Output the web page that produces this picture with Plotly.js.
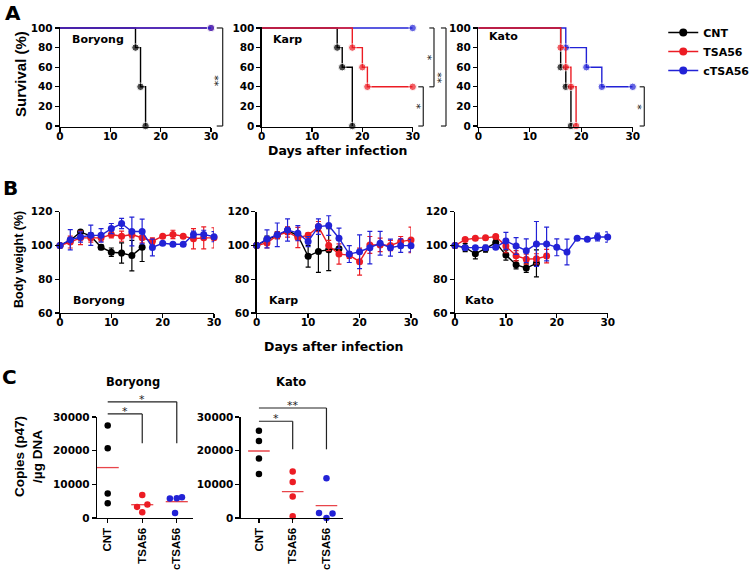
<!DOCTYPE html>
<html><head><meta charset="utf-8">
<script src="https://cdn.plot.ly/plotly-3.0.1.min.js"></script>
<style>html,body{margin:0;padding:0;background:#fff}#chart{width:750px;height:572px}</style>
</head><body><div id="chart"></div>
<script>
// ---------- Panel A : survival (%) ----------
const aBoryongCNTDay=[0,15,16,17],      aBoryongCNT=[100,80,40,0];
const aBoryongTSA56Day=[0,30],          aBoryongTSA56=[100,100];
const aBoryongcTSA56Day=[0,30],         aBoryongcTSA56=[100,100];
const aKarpCNTDay=[0,15,16,18],         aKarpCNT=[100,80,60,0];
const aKarpTSA56Day=[0,18,20,21,30],    aKarpTSA56=[100,80,60,40,40];
const aKarpcTSA56Day=[0,30],            aKarpcTSA56=[100,100];
const aKatoCNTDay=[0,16,17,18],         aKatoCNT=[100,60,40,0];
const aKatoTSA56Day=[0,16,17,18,19],    aKatoTSA56=[100,80,60,40,0];
const aKatocTSA56Day=[0,17,21,24,30],   aKatocTSA56=[100,80,60,40,40];

// ---------- Panel B : body weight (%) ----------
const bDays=[0,2,4,6,8,10,12,14,16,18,20,22,24,26,28,30];
const bBoryongCNT=[100,103,108,105.5,99,96,95.5,94,99];
const bBoryongCNTsd=[0,1.5,1,2,1.5,2.5,6,9,8.5];
const bBoryongTSA56=[100,102,104.5,104.5,104.5,106.5,105.5,106.5,104.5,102.5,105.5,106.5,105.5,104,104.5,104.5];
const bBoryongTSA56sd=[0,3.5,4,2.5,2,2,3,2,3,2,1,2.5,1,6,6.5,6];
const bBoryongcTSA56=[100,103.4,105,106,106,110,113,108.3,108.3,98.8,101.3,100.7,100.7,106.5,106.5,105.2];
const bBoryongcTSA56sd=[0,6,3,6,4,3,3,8.5,7.3,5,1,1,1,2,2.5,3];
const bKarpCNT=[100,103.5,106,108.8,105.9,93.6,96.5,97.5,98];
const bKarpCNTsd=[0,2,2,2,2,6.4,12.4,12.4,1];
const bKarpTSA56=[100,101.5,106,108,104.7,106,111.2,100,94.9,94.3,90.4,100.3,100.3,100,102.3,103.3];
const bKarpTSA56sd=[0,3,2,3,6,1.5,3,3,6,2,8,5,4,3,3,7.6];
const bKarpcTSA56=[100,103.9,106.3,109.2,107.3,102.3,111.2,111.8,104.3,94.9,96.3,98.7,101.3,98.7,99.9,99.9];
const bKarpcTSA56sd=[0,5.3,7,6.6,4.5,3,4.6,5.8,6,5,10,9.6,7,5,4,3.7];
const bKatoCNT=[100,98.7,95.1,98.1,101.7,94.3,88.6,86.6,89.4];
const bKatoCNTsd=[0,2.4,3,2,2,3,2.5,2.5,8];
const bKatoTSA56=[100,103.5,104.3,104.5,105.3,99.7,93.9,91.9,92.1,93.7];
const bKatoTSA56sd=[0,1,1,1,1,4,3,3,3,4];
const bKatocTSA56=[100,98.7,98.7,98.7,98.9,102.7,99.7,96.9,100.9,100.9,98.9,96.1,104.3,103.7,105,105];
const bKatocTSA56sd=[0,1,1,1,1,5,5,7,13.3,10,5,7.6,0,0,2.3,3];

// ---------- Panel C : copies (p47) / ug DNA ----------
const cGroups=['CNT','TSA56','cTSA56'];
const cBoryongCNT=[27500,20700,7300,4400];
const cBoryongTSA56=[6800,4000,3300,1700];
const cBoryongcTSA56=[5800,5900,6200,1500];
const cKatoCNT=[25900,22900,17700,13100];
const cKatoTSA56=[13800,10700,6400,500];
const cKatocTSA56=[11800,1500,0,1300];
// horizontal scatter offsets of the dots inside each group
const cBoryongCNTJit=[0,0,0,0], cBoryongTSA56Jit=[0,0.15,-0.15,0], cBoryongcTSA56Jit=[-0.2,0,0.15,-0.05];
const cKatoCNTJit=[0,0,0,0], cKatoTSA56Jit=[0,0,0,0], cKatocTSA56Jit=[0,-0.22,0,0.18];

// ---------- styling ----------
const COL={CNT:'#000000',TSA56:'#ec1c24',cTSA56:'#2222d6'};
const FH='DejaVu Sans', FV='Liberation Sans';
const W=750,H=572;
const px=v=>v/W, py=v=>1-v/H;
const data=[];

function survTrace(x,y,g,xa,ya){
  return {type:'scatter',x,y,xaxis:xa,yaxis:ya,mode:'lines+markers',
    line:{shape:'hv',color:COL[g],width:1.4},
    marker:{color:COL[g],size:x.map((d,i)=>i===0?0:7.5)},
    cliponaxis:false,showlegend:false,hoverinfo:'skip'};
}
data.push(survTrace(aBoryongCNTDay,aBoryongCNT,'CNT','x','y'));
data.push(survTrace(aBoryongTSA56Day,aBoryongTSA56,'TSA56','x','y'));
data.push(survTrace(aBoryongcTSA56Day,aBoryongcTSA56,'cTSA56','x','y'));
data.push(survTrace(aKarpCNTDay,aKarpCNT,'CNT','x2','y2'));
data.push(survTrace(aKarpcTSA56Day,aKarpcTSA56,'cTSA56','x2','y2'));
data.push(survTrace(aKarpTSA56Day,aKarpTSA56,'TSA56','x2','y2'));
data.push(survTrace(aKatoCNTDay,aKatoCNT,'CNT','x3','y3'));
data.push(survTrace(aKatocTSA56Day,aKatocTSA56,'cTSA56','x3','y3'));
data.push(survTrace(aKatoTSA56Day,aKatoTSA56,'TSA56','x3','y3'));

function bwTrace(y,sd,g,xa,ya){
  return {type:'scatter',x:bDays.slice(0,y.length),y,xaxis:xa,yaxis:ya,mode:'lines+markers',
    line:{color:COL[g],width:1.4},marker:{color:COL[g],size:7},
    error_y:{type:'data',array:sd,visible:true,color:COL[g],thickness:1.2,width:2.5},
    cliponaxis:false,showlegend:false,hoverinfo:'skip'};
}
data.push(bwTrace(bBoryongCNT,bBoryongCNTsd,'CNT','x4','y4'));
data.push(bwTrace(bBoryongTSA56,bBoryongTSA56sd,'TSA56','x4','y4'));
data.push(bwTrace(bBoryongcTSA56,bBoryongcTSA56sd,'cTSA56','x4','y4'));
data.push(bwTrace(bKarpCNT,bKarpCNTsd,'CNT','x5','y5'));
data.push(bwTrace(bKarpTSA56,bKarpTSA56sd,'TSA56','x5','y5'));
data.push(bwTrace(bKarpcTSA56,bKarpcTSA56sd,'cTSA56','x5','y5'));
data.push(bwTrace(bKatoCNT,bKatoCNTsd,'CNT','x6','y6'));
data.push(bwTrace(bKatoTSA56,bKatoTSA56sd,'TSA56','x6','y6'));
data.push(bwTrace(bKatocTSA56,bKatocTSA56sd,'cTSA56','x6','y6'));

function dots(vals,jit,gi,xa,ya){
  const g=cGroups[gi];
  const mean=vals.reduce((a,b)=>a+b,0)/vals.length;
  data.push({type:'scatter',x:[gi-0.32,gi+0.32],y:[mean,mean],xaxis:xa,yaxis:ya,mode:'lines',
    line:{color:'#e8454a',width:1.3},showlegend:false,hoverinfo:'skip',cliponaxis:false});
  data.push({type:'scatter',x:vals.map((v,i)=>gi+jit[i]),y:vals,xaxis:xa,yaxis:ya,mode:'markers',
    marker:{color:COL[g],size:6.5},showlegend:false,hoverinfo:'skip',cliponaxis:false});
}
dots(cBoryongCNT,cBoryongCNTJit,0,'x7','y7');
dots(cBoryongTSA56,cBoryongTSA56Jit,1,'x7','y7');
dots(cBoryongcTSA56,cBoryongcTSA56Jit,2,'x7','y7');
dots(cKatoCNT,cKatoCNTJit,0,'x8','y8');
dots(cKatoTSA56,cKatoTSA56Jit,1,'x8','y8');
dots(cKatocTSA56,cKatocTSA56Jit,2,'x8','y8');

// legend entries
cGroups.forEach(g=>data.push({type:'scatter',x:[null],y:[null],xaxis:'x',yaxis:'y',name:g,mode:'lines+markers',
  line:{color:COL[g],width:1.4},marker:{color:COL[g],size:8},showlegend:true,hoverinfo:'skip'}));

// ---------- axes ----------
const tickF={family:FH,size:10.5,color:'#000',weight:'bold'};
function ax(domain,range,dtick,anchor,extra){
  return Object.assign({domain,range,dtick,tick0:0,anchor,showgrid:false,zeroline:false,showline:true,
    linecolor:'#000',linewidth:1.3,ticks:'outside',ticklen:4,tickwidth:1.3,tickcolor:'#000',
    tickfont:tickF,tickformat:'d',fixedrange:true,automargin:false},extra||{});
}
const xDays={ticklabelstandoff:-5};
const yA=[py(127),py(27)], yB=[py(313),py(211.7)], yC=[py(518),py(417)];
const catAxis={tickmode:'array',tickvals:[0,1,2],ticktext:cGroups,tickangle:-90,
    tickfont:{family:FV,size:11.5,color:'#000',weight:'bold'}};
const layout={
  width:W,height:H,margin:{l:0,r:0,t:0,b:0,autoexpand:false},paper_bgcolor:'#fff',plot_bgcolor:'rgba(0,0,0,0)',
  showlegend:true,
  legend:{x:1.007,y:py(18),xanchor:'right',yanchor:'top',font:{family:FH,size:11,color:'#000',weight:'bold'},
    bgcolor:'rgba(0,0,0,0)',tracegroupgap:0,itemwidth:30},
  xaxis: ax([px(60),px(211)],[0,30],10,'y',xDays),
  yaxis: ax(yA,[-1,101],20,'x'),
  xaxis2:ax([px(261.7),px(412.7)],[0,30],10,'y2',xDays),
  yaxis2:ax(yA,[-1,101],20,'x2'),
  xaxis3:ax([px(478.3),px(632.7)],[0,30],10,'y3',xDays),
  yaxis3:ax(yA,[-1,101],20,'x3'),
  xaxis4:ax([px(60),px(214)],[0,30],10,'y4',xDays),
  yaxis4:ax(yB,[60,120],20,'x4'),
  xaxis5:ax([px(256.7),px(411)],[0,30],10,'y5',xDays),
  yaxis5:ax(yB,[60,120],20,'x5'),
  xaxis6:ax([px(455),px(607.7)],[0,30],10,'y6',xDays),
  yaxis6:ax(yB,[60,120],20,'x6'),
  xaxis7:ax([px(97),px(193)],[-0.31,2.47],1,'y7',catAxis),
  yaxis7:ax(yC,[0,30000],10000,'x7'),
  xaxis8:ax([px(240.7),px(343)],[-0.54,2.49],1,'y8',catAxis),
  yaxis8:ax(yC,[0,30000],10000,'x8'),
  shapes:[],annotations:[]
};

// ---------- brackets ----------
const BR={color:'#222',width:1.2};
function seg(xref,yref,x0,y0,x1,y1){layout.shapes.push({type:'line',xref,yref,x0,y0,x1,y1,line:BR});}
function vBracket(xs,ys,xin,xout,yt,yb){seg(xs,ys,xin,yt,xout,yt);seg(xs,ys,xout,yt,xout,yb);seg(xs,ys,xin,yb,xout,yb);}
function hBracket(xs,ys,x0,x1,yt,yb){seg(xs,ys,x0,yt,x1,yt);seg(xs,ys,x1,yt,x1,yb);}
function ann(o){
  const f=Object.assign({family:FH,size:11,color:'#000',weight:'bold'},o.font||{});
  layout.annotations.push(Object.assign({showarrow:false,xanchor:'center',yanchor:'middle'},o,{font:f}));
}
const STAR={family:FH,size:11,color:'#222',weight:'normal'};

vBracket('x domain','y',1.038,1.0775,100,0);
ann({xref:'x domain',yref:'y',x:1.055,y:47,text:'**',textangle:-90,font:STAR});
vBracket('x2 domain','y2',1.110,1.141,100,40);
ann({xref:'x2 domain',yref:'y2',x:1.121,y:70,text:'*',textangle:-90,font:STAR});
vBracket('x2 domain','y2',1.037,1.070,40,0);
ann({xref:'x2 domain',yref:'y2',x:1.053,y:20,text:'*',textangle:-90,font:STAR});
vBracket('x2 domain','y2',1.187,1.2205,100,0);
ann({xref:'x2 domain',yref:'y2',x:1.196,y:50,text:'**',textangle:-90,font:STAR});
vBracket('x3 domain','y3',1.045,1.075,40,0);
ann({xref:'x3 domain',yref:'y3',x:1.056,y:20,text:'*',textangle:-90,font:STAR});

hBracket('x7','y7 domain',0,1,1.03,0.74);
hBracket('x7','y7 domain',0,2,1.15,0.74);
ann({xref:'x7',yref:'y7 domain',x:0.5,y:1.03,yanchor:'bottom',yshift:-6,text:'*',font:STAR});
ann({xref:'x7',yref:'y7 domain',x:1.0,y:1.15,yanchor:'bottom',yshift:-6,text:'*',font:STAR});
hBracket('x8','y8 domain',0,1,0.958,0.68);
hBracket('x8','y8 domain',0,2,1.089,0.68);
ann({xref:'x8',yref:'y8 domain',x:0.5,y:0.958,yanchor:'bottom',yshift:-6,text:'*',font:STAR});
ann({xref:'x8',yref:'y8 domain',x:1.0,y:1.089,yanchor:'bottom',yshift:-6,text:'**',font:STAR});

// ---------- labels ----------
[['A',13,13],['B',10,188],['C',9,377]].forEach(([t,x,y])=>ann({xref:'paper',yref:'paper',x:px(x),y:py(y),text:t,font:{size:20}}));
ann({xref:'x domain',yref:'y domain',x:0.066,y:0.87,xanchor:'left',text:'Boryong'});
ann({xref:'x2 domain',yref:'y2 domain',x:0.06,y:0.87,xanchor:'left',text:'Karp'});
ann({xref:'x3 domain',yref:'y3 domain',x:0.056,y:0.90,xanchor:'left',text:'Kato'});
ann({xref:'x4 domain',yref:'y4 domain',x:0.071,y:0.128,xanchor:'left',text:'Boryong'});
ann({xref:'x5 domain',yref:'y5 domain',x:0.067,y:0.121,xanchor:'left',text:'Karp'});
ann({xref:'x6 domain',yref:'y6 domain',x:0.05,y:0.128,xanchor:'left',text:'Kato'});
ann({xref:'x2 domain',yref:'paper',x:0.5,y:py(151),text:'Days after infection',font:{size:12.5}});
ann({xref:'x5 domain',yref:'paper',x:0.5,y:py(346),text:'Days after infection',font:{size:12.5}});
ann({xref:'paper',yref:'paper',x:px(20),y:py(74),text:'Survival (%)',textangle:-90,font:{family:FV,size:15}});
ann({xref:'paper',yref:'paper',x:px(19),y:py(260),text:'Body weight (%)',textangle:-90,font:{family:FV,size:12.5}});
ann({xref:'paper',yref:'paper',x:px(28),y:py(457),text:'Copies (p47)<br>/µg DNA',textangle:-90,font:{family:FV,size:13.5}});
ann({xref:'paper',yref:'paper',x:px(133),y:py(382),text:'Boryong',font:{size:11.5}});
ann({xref:'paper',yref:'paper',x:px(291),y:py(382),text:'Kato',font:{size:11.5}});

Plotly.newPlot('chart',data,layout,{staticPlot:true,displayModeBar:false});
</script></body></html>
